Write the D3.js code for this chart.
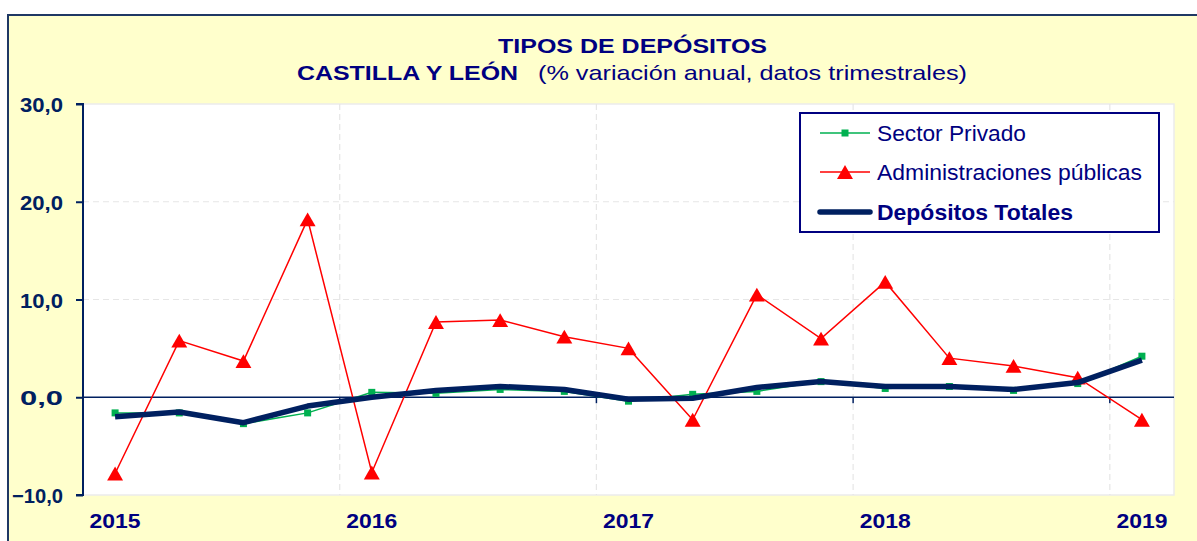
<!DOCTYPE html>
<html><head><meta charset="utf-8">
<script src="https://cdn.jsdelivr.net/npm/d3@7"></script>
<style>body{margin:0;background:#fff}svg{display:block;font-family:"Liberation Sans",Arial,sans-serif}</style>
</head><body><svg id="c" width="1197" height="541"></svg>
<script>
const categories = ["2015","","","","2016","","","","2017","","","","2018","","","","2019"];
const sectorPrivado = [-1.6,-1.6,-2.7,-1.6,0.5,0.4,0.8,0.6,-0.4,0.3,0.6,1.6,0.9,1.1,0.7,1.4,4.2];
const adminPublicas = [-7.8,5.8,3.7,18.2,-7.7,7.7,7.9,6.2,5.0,-2.3,10.5,6.0,11.8,4.0,3.2,2.0,-2.3];
const depositosTotales = [-2.0,-1.5,-2.6,-0.9,0.0,0.7,1.1,0.8,-0.2,-0.1,1.0,1.6,1.1,1.1,0.8,1.5,3.8];
const yTicks = [-10,0,10,20,30];
const seriesNames = ["Sector Privado","Administraciones públicas","Depósitos Totales"];

const svg = d3.select("#c");
const navy = "#000080", dark = "#002060";
svg.append("rect").attr("x",8).attr("y",15).attr("width",1200).attr("height",540)
  .attr("fill","#FFFFCC").attr("stroke","#1F3864").attr("stroke-width",2);

const L=83,R=1174,T=104,B=495;
const idx = d3.range(categories.length);
const x = d3.scaleBand().domain(idx).range([L,R]);
const y = d3.scaleLinear().domain([-10,30]).range([B,T]);
const cx = i => x(i)+x.bandwidth()/2;

svg.append("rect").attr("x",L).attr("y",T).attr("width",R-L).attr("height",B-T)
  .attr("fill","#fff").attr("stroke","#EBEBEB").attr("stroke-width",1.5);

svg.append("g").selectAll("line").data(yTicks.filter(v=>v!==0&&v!==-10&&v!==30)).join("line")
  .attr("x1",L).attr("x2",R).attr("y1",d=>y(d)).attr("y2",d=>y(d))
  .attr("stroke","#E6E6E6").attr("stroke-dasharray","6,4").attr("stroke-width",1.2);
const yearBounds = idx.filter(i=>i>0 && i%4===0);
svg.append("g").selectAll("line").data(yearBounds).join("line")
  .attr("x1",d=>x(d)).attr("x2",d=>x(d)).attr("y1",T).attr("y2",B)
  .attr("stroke","#E6E6E6").attr("stroke-dasharray","6,4").attr("stroke-width",1.2);

const fmt = d=>d3.format(".1f")(d).replace(".",",");
const yAxis = d3.axisLeft(y).tickValues(yTicks).tickSize(7).tickFormat(fmt);
const ga = svg.append("g").attr("transform",`translate(${L},0)`).call(yAxis);
ga.select(".domain").attr("stroke",dark).attr("stroke-width",2).attr("d",`M-7,${T}H0V${B}H-7`);
ga.selectAll(".tick line").attr("stroke",dark).attr("stroke-width",2);
ga.selectAll(".tick text").attr("fill",dark).attr("font-size",21).attr("font-weight","bold")
  .attr("font-family","Liberation Sans, Arial, sans-serif").attr("x",-20).attr("dy","0.36em")
  .attr("textLength",d=>d<0?51:43).attr("lengthAdjust","spacingAndGlyphs");

svg.append("line").attr("x1",L).attr("x2",R).attr("y1",y(0)).attr("y2",y(0)).attr("stroke",dark).attr("stroke-width",1.5);
svg.append("g").selectAll("line").data(yearBounds).join("line")
  .attr("x1",d=>x(d)).attr("x2",d=>x(d)).attr("y1",y(0)).attr("y2",y(0)+6)
  .attr("stroke",dark).attr("stroke-width",1.5);

svg.append("g").selectAll("text").data(idx.filter(i=>categories[i])).join("text")
  .attr("x",cx).attr("y",528).attr("text-anchor","middle")
  .attr("fill",navy).attr("font-size",21).attr("font-weight","bold")
  .attr("textLength",51).attr("lengthAdjust","spacingAndGlyphs").text(i=>categories[i]);

const line = d3.line().x((d,i)=>cx(i)).y(d=>y(d));
svg.append("path").datum(sectorPrivado).attr("d",line).attr("fill","none").attr("stroke","#00B050").attr("stroke-width",1.5);
svg.append("g").selectAll("rect").data(sectorPrivado).join("rect")
  .attr("x",(d,i)=>cx(i)-3.5).attr("y",d=>y(d)-3.5).attr("width",7).attr("height",7).attr("fill","#00B050");
svg.append("path").datum(adminPublicas).attr("d",line).attr("fill","none").attr("stroke","#FF0000").attr("stroke-width",1.5);
const tri = d3.symbol().type(d3.symbolTriangle).size(110);
const triOff = 2.3;
svg.append("g").selectAll("path").data(adminPublicas).join("path")
  .attr("d",tri).attr("transform",(d,i)=>`translate(${cx(i)},${y(d)+triOff})`).attr("fill","#FF0000");
svg.append("path").datum(depositosTotales).attr("d",line).attr("fill","none").attr("stroke",dark).attr("stroke-width",5.5).attr("stroke-linejoin","round");

const lg = svg.append("g");
lg.append("rect").attr("x",800).attr("y",113).attr("width",359).attr("height",119).attr("fill","#fff").attr("stroke",navy).attr("stroke-width",2);
const rows=[133,172,212];
lg.append("line").attr("x1",820).attr("x2",870).attr("y1",rows[0]).attr("y2",rows[0]).attr("stroke","#00B050").attr("stroke-width",1.5);
lg.append("rect").attr("x",841.5).attr("y",rows[0]-3.5).attr("width",7).attr("height",7).attr("fill","#00B050");
lg.append("line").attr("x1",820).attr("x2",870).attr("y1",rows[1]).attr("y2",rows[1]).attr("stroke","#FF0000").attr("stroke-width",1.5);
lg.append("path").attr("d",tri).attr("transform",`translate(845,${rows[1]+triOff})`).attr("fill","#FF0000");
lg.append("line").attr("x1",820).attr("x2",870).attr("y1",rows[2]).attr("y2",rows[2]).attr("stroke",dark).attr("stroke-width",5.5).attr("stroke-linecap","round");
const legW=[149,265,196];
seriesNames.forEach((n,i)=>{
  lg.append("text").attr("x",877).attr("y",rows[i]).attr("dy","0.36em").attr("fill",navy).attr("font-size",22)
    .attr("font-weight",i===2?"bold":"normal").attr("textLength",legW[i]).attr("lengthAdjust","spacingAndGlyphs").text(n);
});

svg.append("text").attr("x",498).attr("y",53).attr("fill",navy)
  .attr("font-size",21).attr("font-weight","bold").attr("textLength",269).attr("lengthAdjust","spacingAndGlyphs").text("TIPOS DE DEPÓSITOS");
svg.append("text").attr("x",297).attr("y",80).attr("fill",navy).attr("font-size",21).attr("font-weight","bold")
  .attr("textLength",221).attr("lengthAdjust","spacingAndGlyphs").text("CASTILLA Y LEÓN");
svg.append("text").attr("x",538).attr("y",80).attr("fill",navy).attr("font-size",21)
  .attr("textLength",429).attr("lengthAdjust","spacingAndGlyphs").text("(% variación anual, datos trimestrales)");
</script></body></html>
